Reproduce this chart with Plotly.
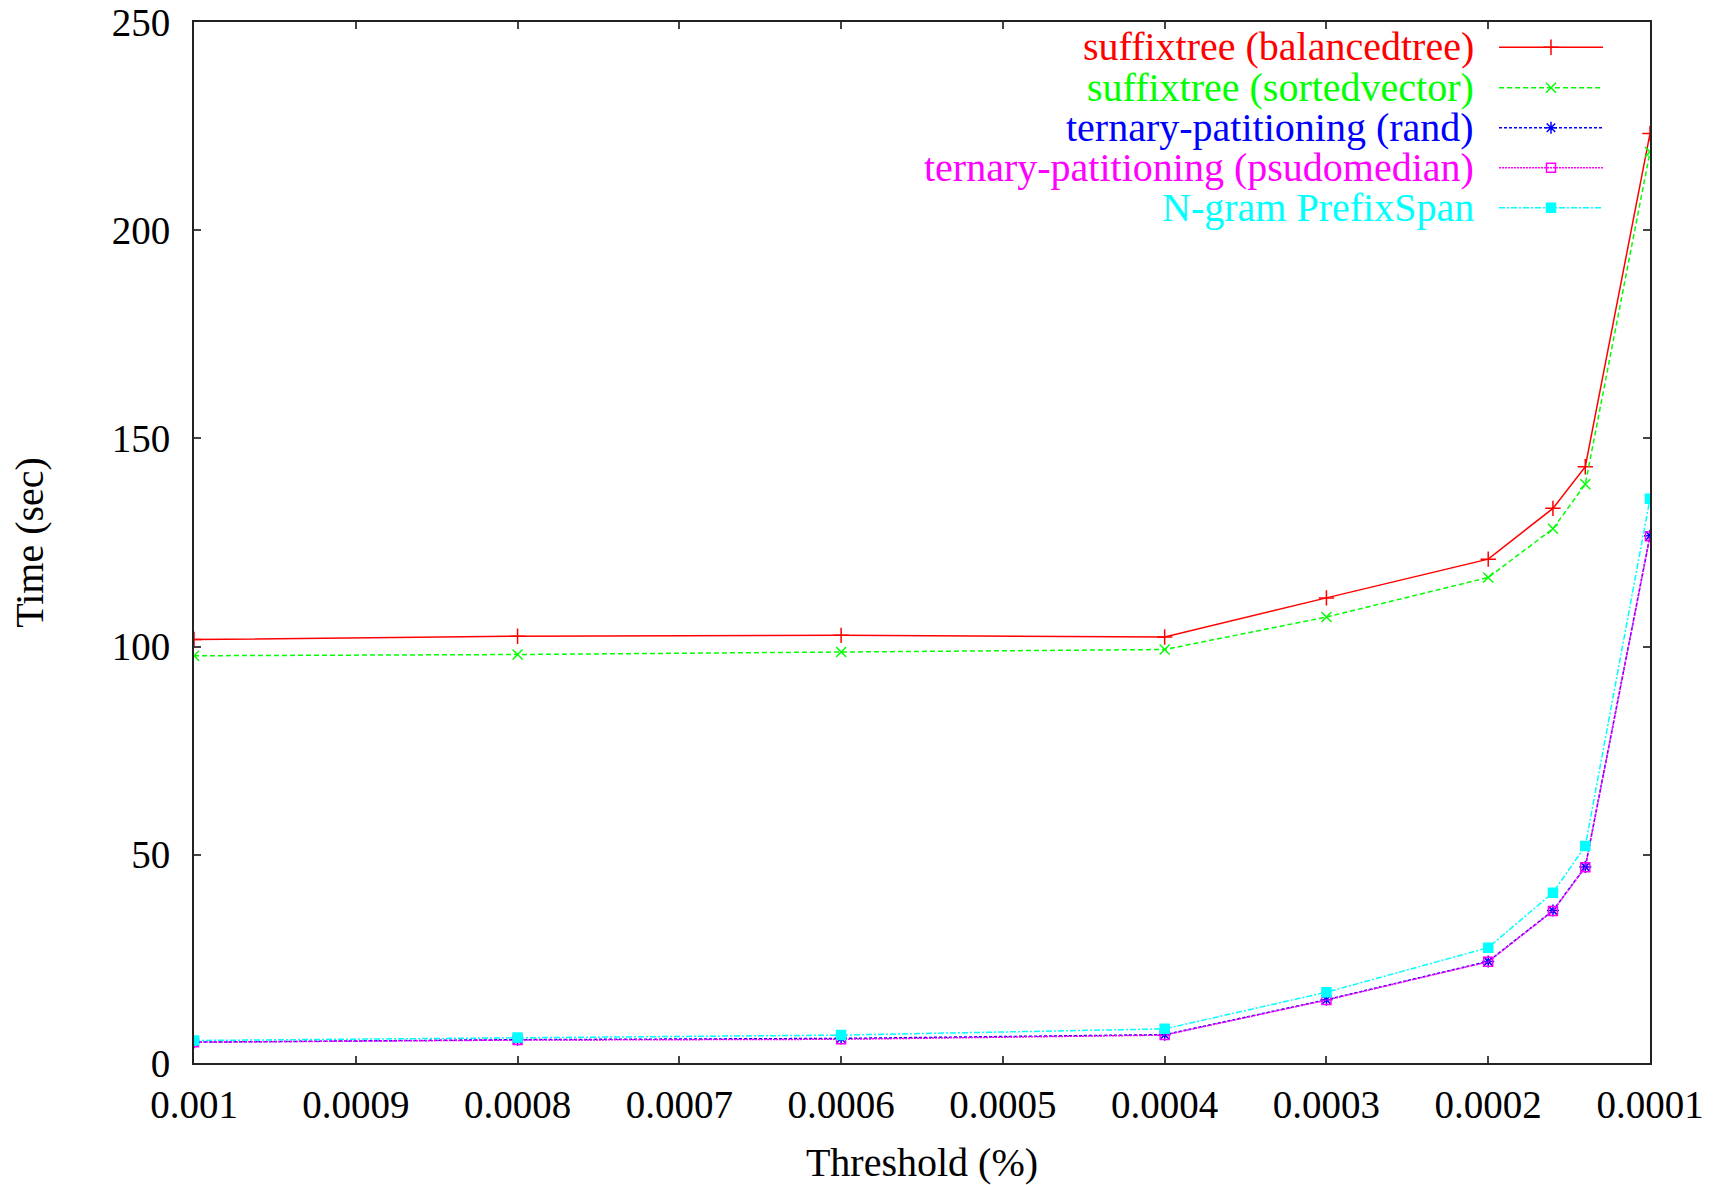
import plotly.graph_objects as go

# Support threshold (%) on the x axis, running time in seconds on the y axis
thresholds = [0.001, 0.0008, 0.0006, 0.0004, 0.0003, 0.0002, 0.00016, 0.00014, 0.0001]

suffix_balanced = [101.7, 102.5, 102.7, 102.3, 111.7, 121.0, 133.2, 143.2, 223.2]
suffix_sorted = [97.8, 98.1, 98.7, 99.3, 107.1, 116.6, 128.3, 139.0, 218.8]
ternary_rand = [5.0, 5.6, 5.9, 6.8, 15.2, 24.4, 36.6, 47.1, 126.6]
ternary_pseudo = [5.0, 5.5, 5.7, 6.7, 15.1, 24.3, 36.5, 47.0, 126.5]
ngram_prefixspan = [5.4, 6.1, 6.7, 8.2, 17.0, 27.7, 40.9, 52.1, 135.5]

series_names = [
    "suffixtree (balancedtree)",
    "suffixtree (sortedvector)",
    "ternary-patitioning (rand)",
    "ternary-patitioning (psudomedian)",
    "N-gram PrefixSpan",
]

x_tick_vals = [0.001, 0.0009, 0.0008, 0.0007, 0.0006, 0.0005, 0.0004, 0.0003, 0.0002, 0.0001]
x_tick_text = ["0.001", "0.0009", "0.0008", "0.0007", "0.0006", "0.0005",
               "0.0004", "0.0003", "0.0002", "0.0001"]
y_tick_vals = [0, 50, 100, 150, 200, 250]

FONT = "Liberation Serif, Times New Roman, serif"

styles = [
    dict(color="#ff0000", dash="solid", symbol="cross-thin-open", size=11),
    dict(color="#00ff00", dash="5px,3px", symbol="x-thin-open", size=10),
    dict(color="#0000ff", dash="3px,2px", symbol="asterisk-open", size=10),
    dict(color="#ff00ff", dash="2px,1px", symbol="square-open", size=9),
    dict(color="#00ffff", dash="6px,2px,2px,2px", symbol="square", size=9),
]

values = [suffix_balanced, suffix_sorted, ternary_rand, ternary_pseudo, ngram_prefixspan]

fig = go.Figure()

for name, ys, st in zip(series_names, values, styles):
    fig.add_trace(go.Scatter(
        x=thresholds, y=ys, name=name, mode="lines+markers",
        line=dict(color=st["color"], width=1.5, dash=st["dash"]),
        marker=dict(symbol=st["symbol"], size=st["size"], color=st["color"],
                    line=dict(color=st["color"], width=1.5)),
        showlegend=False,
    ))

# Key in the top-right corner: right-aligned labels with line samples
key_text_x = 0.8798
key_line_x = [0.8963, 0.9677]
key_mark_x = 0.932
key_rows = [0.9757, 0.9369, 0.8985, 0.8600, 0.8216]

for name, st, ky in zip(series_names, styles, key_rows):
    fig.add_trace(go.Scatter(
        x=key_line_x, y=[ky, ky], xaxis="x2", yaxis="y2", mode="lines",
        line=dict(color=st["color"], width=1.5, dash=st["dash"]),
        showlegend=False, hoverinfo="skip",
    ))
    fig.add_trace(go.Scatter(
        x=[key_mark_x], y=[ky], xaxis="x2", yaxis="y2", mode="markers",
        marker=dict(symbol=st["symbol"], size=st["size"], color=st["color"],
                    line=dict(color=st["color"], width=1.5)),
        showlegend=False, hoverinfo="skip",
    ))
    # tight row box: the unused space above the glyphs is trimmed, descenders kept
    fig.add_annotation(
        x=key_text_x, y=ky, xref="paper", yref="paper",
        text=name, showarrow=False, xanchor="right", yanchor="middle",
        height=40, valign="bottom", borderpad=0, yshift=-2,
        font=dict(family=FONT, size=40, color=st["color"]),
    )

axis_common = dict(
    showline=True, linecolor="#222222", linewidth=2, mirror="ticks",
    ticks="inside", ticklen=7, tickwidth=1.5, tickcolor="#444444",
    showgrid=False, zeroline=False, automargin=False,
    tickfont=dict(family=FONT, size=39, color="black"),
)

fig.update_layout(
    width=1717, height=1185,
    margin=dict(l=194, r=67, t=22, b=122),
    paper_bgcolor="white", plot_bgcolor="white",
    showlegend=False,
    xaxis=dict(
        range=[0.001, 0.0001], tickvals=x_tick_vals, ticktext=x_tick_text,
        title=dict(text="Threshold (%)", font=dict(family=FONT, size=40, color="black"),
                   standoff=24),
        ticklabelstandoff=6,
        **axis_common,
    ),
    yaxis=dict(
        range=[0, 250], tickvals=y_tick_vals,
        title=dict(text="Time (sec)", font=dict(family=FONT, size=40, color="black"),
                   standoff=56),
        ticklabelstandoff=14,
        **axis_common,
    ),
    xaxis2=dict(range=[0, 1], overlaying="x", visible=False, fixedrange=True),
    yaxis2=dict(range=[0, 1], overlaying="y", visible=False, fixedrange=True),
)

fig.write_html("out.html")
